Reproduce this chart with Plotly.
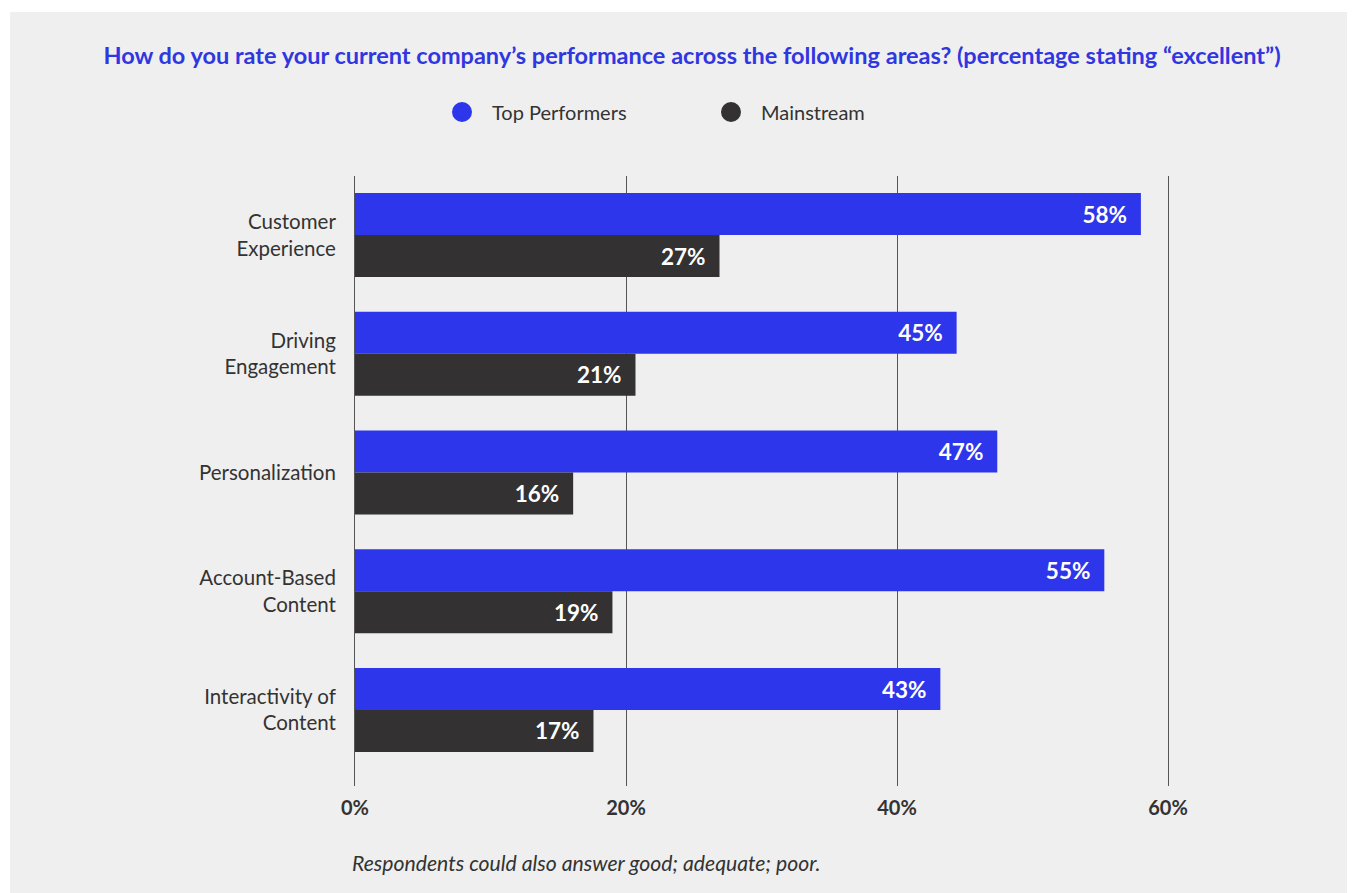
import plotly.graph_objects as go

categories = ["Customer<br>Experience", "Driving<br>Engagement", "Personalization",
              "Account-Based<br>Content", "Interactivity of<br>Content"]
top_values = [58.0, 44.4, 47.4, 55.3, 43.2]
top_labels = ["58%", "45%", "47%", "55%", "43%"]
main_values = [26.9, 20.7, 16.1, 19.0, 17.6]
main_labels = ["27%", "21%", "16%", "19%", "17%"]
x_ticks = [0, 20, 40, 60]
x_ticklabels = ["0%", "20%", "40%", "60%"]

BLUE = "#2e36eb"
DARK = "#333132"
BG = "#efefef"
TXT = "#333333"
GRID = "#555555"
FONT = "Lato"
pad = "\u00a0\u00a0"

fig = go.Figure()
fig.add_trace(go.Bar(
    y=categories, x=top_values, orientation="h", name="Top Performers",
    marker=dict(color=BLUE, line=dict(width=0)),
    text=[t + pad for t in top_labels], textposition="inside", insidetextanchor="end",
    textfont=dict(family=FONT, size=22.5, color="white", weight="bold"),
    showlegend=False, hoverinfo="skip",
))
fig.add_trace(go.Bar(
    y=categories, x=main_values, orientation="h", name="Mainstream",
    marker=dict(color=DARK, line=dict(width=0)),
    text=[t + pad for t in main_labels], textposition="inside", insidetextanchor="end",
    textfont=dict(family=FONT, size=22.5, color="white", weight="bold"),
    showlegend=False, hoverinfo="skip",
))
# legend entries with round markers
for nm, col in [("Top Performers", BLUE), ("Mainstream", DARK)]:
    fig.add_trace(go.Scatter(x=[None], y=[None], mode="markers", name=nm,
                             marker=dict(color=col, size=16, symbol="circle",
                                         line=dict(color=col, width=4))))

# page offset of the default HTML body margin
OFF = 8
W, H = 1355 - OFF, 893 - OFF
L, R, T, B = 355 - OFF, 1168 - OFF, 176 - OFF, 786 - OFF
pw, ph = R - L, B - T

def px(xp):
    return (xp - OFF - L) / pw

def py(yp):
    return (B - (yp - OFF)) / ph

fig.add_shape(type="rect", xref="paper", yref="paper",
              x0=px(10), x1=px(1354), y0=py(893), y1=py(12),
              fillcolor=BG, line=dict(width=0), layer="below")

fig.update_layout(
    width=W, height=H,
    margin=dict(l=L, r=W - R, t=T, b=H - B, pad=0),
    paper_bgcolor="white", plot_bgcolor="rgba(0,0,0,0)",
    barmode="group", bargap=0.293, bargroupgap=0,
    font=dict(family=FONT, size=20, color=TXT),
    title=dict(
        text="<b>How do you rate your current company’s performance across the following areas? (percentage stating “excellent”)</b>",
        x=(692 - OFF) / W, xanchor="center", xref="container",
        y=1 - (56 - OFF) / H, yanchor="middle", yref="container",
        font=dict(family=FONT, size=23.5, color="#3036e0"),
    ),
    legend=dict(orientation="h", x=px(432), xanchor="left", y=py(112), yanchor="middle",
                font=dict(family=FONT, size=20, color=TXT), entrywidth=204, itemwidth=50,
                bgcolor="rgba(0,0,0,0)", itemclick=False),
    xaxis=dict(range=[0, 60], tickvals=x_ticks, ticktext=x_ticklabels,
               showgrid=True, gridcolor=GRID, gridwidth=1,
               zeroline=False, showline=False,
               ticks="outside", ticklen=4, tickcolor="rgba(0,0,0,0)",
               tickfont=dict(family=FONT, size=20, color=TXT, weight="bold"),
               fixedrange=True),
    yaxis=dict(range=[4.64, -0.497], showgrid=False, zeroline=False,
               showline=True, mirror=True, linecolor=GRID, linewidth=1,
               ticks="outside", ticklen=14, tickcolor="rgba(0,0,0,0)",
               tickfont=dict(family=FONT, size=20.5, color=TXT), fixedrange=True),
    annotations=[dict(
        text="<i>Respondents could also answer good; adequate; poor.</i>",
        xref="paper", yref="paper", x=px(350), y=py(863), xanchor="left", yanchor="middle",
        showarrow=False, font=dict(family=FONT, size=21.2, color=TXT),
    )],
)

fig.write_html("out.html")
